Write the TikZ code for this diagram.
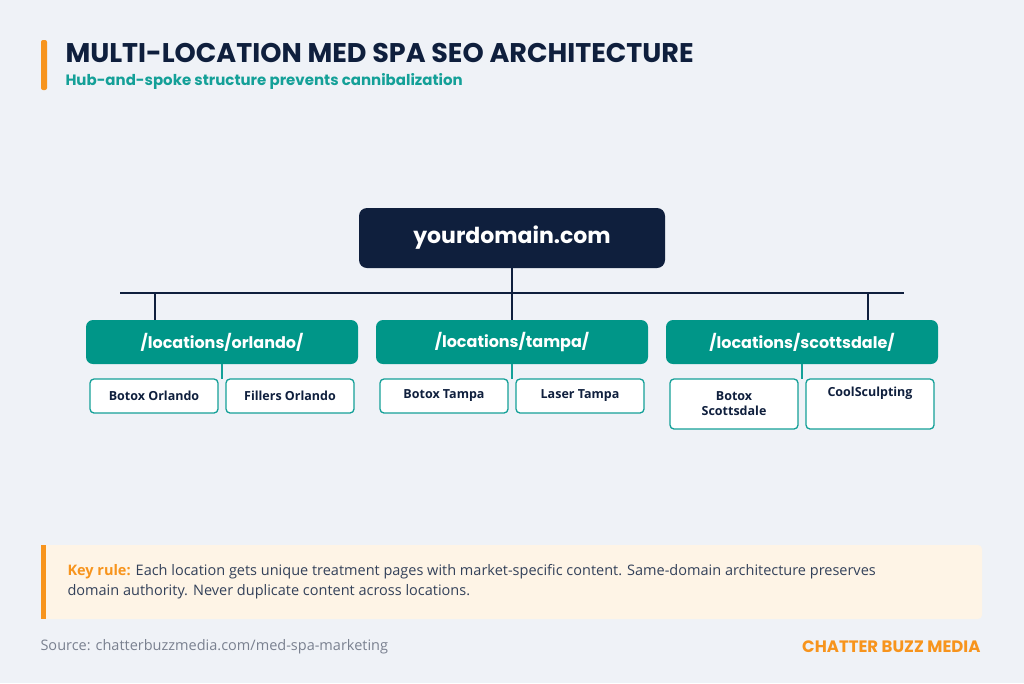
\documentclass[tikz,border=0pt]{standalone}
\usepackage{fontspec}
\setmainfont{Open Sans}
\newfontfamily\pop{Poppins}
\definecolor{bg}{HTML}{EFF2F7}
\definecolor{navy}{HTML}{0F1F3D}
\definecolor{teal}{HTML}{009688}
\definecolor{tealt}{HTML}{14A098}
\definecolor{orng}{HTML}{F7941D}
\definecolor{cream}{HTML}{FEF4E6}
\definecolor{gr}{HTML}{7A8190}
\begin{document}
\begin{tikzpicture}[x=1pt,y=-1pt,
  loc/.style={fill=teal,rounded corners=7pt,minimum width=272pt,minimum height=44pt,text=white,font=\pop\fontsize{16}{19}\selectfont\bfseries},
  leaf/.style={fill=white,draw=tealt,line width=1.3pt,rounded corners=4pt,minimum width=128pt,text=navy,align=center,font=\fontsize{12.5}{15}\selectfont\bfseries},
  hub/.style={line width=2.6pt,draw=navy},
  sub/.style={line width=1.8pt,draw=tealt}]
\fill[bg] (0,0) rectangle (1024,683);
\useasboundingbox (0,0) rectangle (1024,683);
\fill[orng,rounded corners=2pt] (41,40) rectangle (47,90);
\node[anchor=west,text=navy,font=\pop\fontsize{27}{30}\selectfont\bfseries] (title) at (62,53) {MULTI-LOCATION MED SPA SEO ARCHITECTURE};
\node[anchor=west,text=tealt,font=\pop\fontsize{15}{18}\selectfont\bfseries] (subt) at (62,81) {Hub-and-spoke structure prevents cannibalization};
\node[fill=navy,rounded corners=8pt,minimum width=306pt,minimum height=60pt,text=white,font=\pop\fontsize{22}{26}\selectfont\bfseries] (root) at (512,238) {yourdomain.com};
\coordinate (bus) at (512,293);
\draw[hub] (root.south) -- (bus);
\draw[hub] (120,293) -- (904,293);
\node[loc] (orl) at (222,342) {/locations/orlando/};
\node[loc] (tam) at (512,342) {/locations/tampa/};
\node[loc] (sco) at (802,342) {/locations/scottsdale/};
\draw[hub] (155,293) -- (155,320);
\draw[hub] (512,293) -- (tam.north);
\draw[hub] (868,293) -- (868,320);
\node[leaf,minimum height=34pt] (bo) at (154,396) {Botox Orlando};
\node[leaf,minimum height=34pt] (fo) at (290,396) {Fillers Orlando};
\node[leaf,minimum height=34pt] (bt) at (444,396) {Botox Tampa};
\node[leaf,minimum height=34pt] (lt) at (580,396) {Laser Tampa};
\node[leaf,minimum height=50pt] (bs) at (734,404) {Botox\\Scottsdale};
\node[leaf,minimum height=50pt] (cs) at (870,404) {CoolSculpting\\[10pt]};
\draw[sub] (orl.south) -- (222,379);
\draw[sub] (tam.south) -- (512,379);
\draw[sub] (sco.south) -- (802,379);
\fill[cream,rounded corners=4pt] (41,545) rectangle (982,619);
\fill[orng] (41,545) rectangle (46,619);
\node[anchor=north west,align=left,text=navy!85,font=\fontsize{14.5}{20}\selectfont] (key) at (64,561) {{\color{orng}\bfseries Key rule:} Each location gets unique treatment pages with market-specific content. Same-domain architecture preserves\\domain authority. Never duplicate content across locations.};
\node[anchor=west,text=gr,font=\fontsize{14.5}{17}\selectfont] (src) at (37,647) {Source: chatterbuzzmedia.com/med-spa-marketing};
\node[anchor=east,text=orng,font=\pop\fontsize{16.5}{19}\selectfont\bfseries] (brand) at (984,647) {CHATTER BUZZ MEDIA};
\end{tikzpicture}
\end{document}
